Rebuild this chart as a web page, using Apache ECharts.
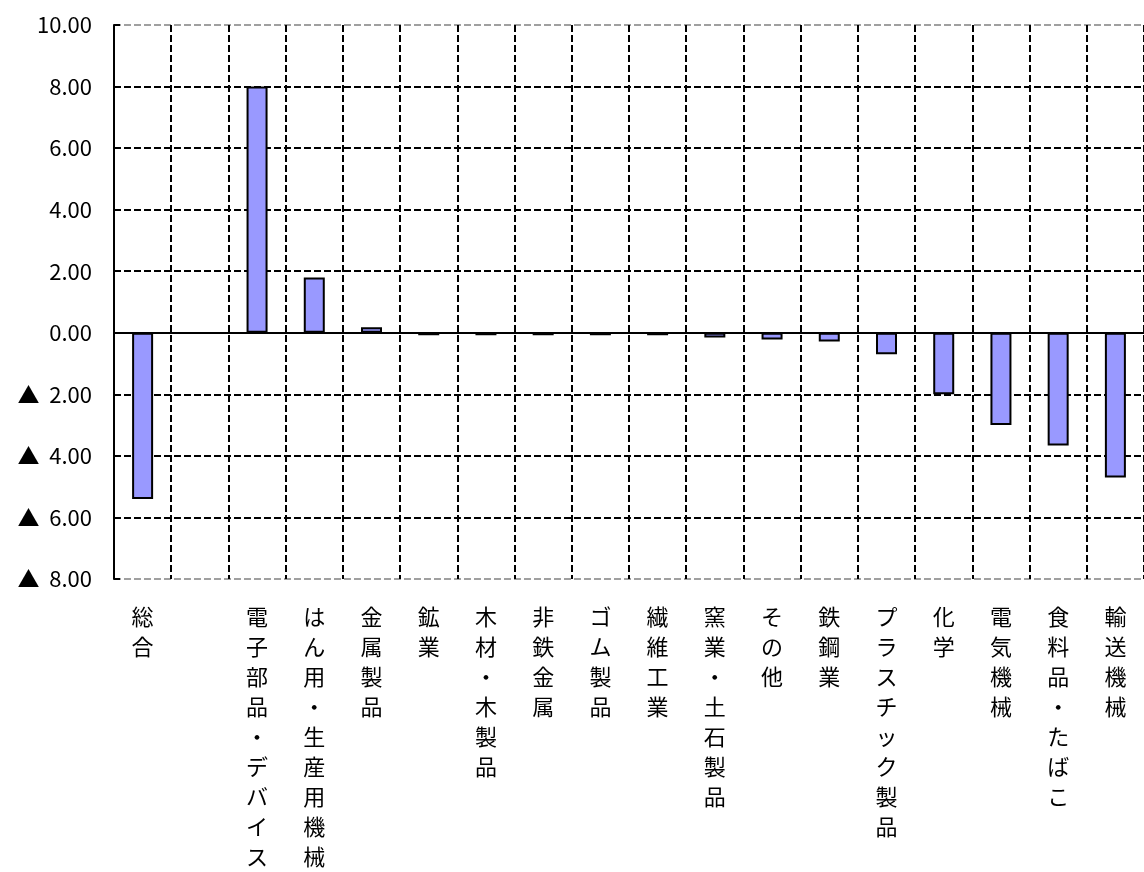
<!DOCTYPE html>
<html>
<head>
<meta charset="utf-8">
<script src="https://cdn.jsdelivr.net/npm/echarts@6/dist/echarts.min.js"></script>
<style>
  html, body { margin: 0; padding: 0; background: #fff; }
  #chart { width: 1144px; height: 872px; }
</style>
</head>
<body>
<div id="chart"></div>
<script>
// 業種（2番目は空欄）
const categories = [
  '総合', '', '電子部品・デバイス', 'はん用・生産用機械', '金属製品', '鉱業',
  '木材・木製品', '非鉄金属', 'ゴム製品', '繊維工業', '窯業・土石製品', 'その他',
  '鉄鋼業', 'プラスチック製品', '化学', '電気機械', '食料品・たばこ', '輸送機械'
]
// 寄与度
const values = [
  -5.4, null, 8.0, 1.8, 0.18, -0.08,
  -0.08, -0.08, -0.08, -0.08, -0.15, -0.22,
  -0.28, -0.7, -2.0, -3.0, -3.66, -4.7
]
const yTicks = { min: -8, max: 10, interval: 2 }

const FONT = 'Noto Sans CJK JP'
const chart = echarts.init(document.getElementById('chart'))

// 目盛線の色：上端・下端だけ灰色
const hLineColors = []
for (let v = yTicks.min; v <= yTicks.max; v += yTicks.interval) {
  hLineColors.push(v === yTicks.min || v === yTicks.max ? '#a0a0a0' : '#000')
}

const option = {
  backgroundColor: '#fff',
  animation: false,
  grid: { left: 114, top: 25, width: 1040, height: 557, containLabel: false },
  xAxis: [{
    type: 'category',
    data: categories,
    position: 'bottom',
    axisLine: { show: false, onZero: false },
    axisTick: { show: false },
    splitLine: {
      show: true,
      interval: 0,
      lineStyle: { color: '#000', type: [7, 3], width: 2 }
    },
    axisLabel: {
      interval: 0,
      margin: 23,
      color: '#000',
      fontFamily: FONT,
      fontSize: 22,
      lineHeight: 30,
      verticalAlign: 'top',
      formatter: (s) => s.split('').join('\n')
    }
  }, {
    // 0 の位置の実線（棒の下に描く）
    type: 'category',
    data: categories,
    position: 'top',
    axisLine: { show: true, onZero: true, lineStyle: { color: '#000', width: 2 } },
    axisTick: { show: false },
    axisLabel: { show: false },
    splitLine: { show: false }
  }],
  yAxis: {
    type: 'value',
    min: yTicks.min,
    max: yTicks.max,
    interval: yTicks.interval,
    axisLine: { show: true, lineStyle: { color: '#000', width: 2 } },
    axisTick: { show: true, inside: true, length: 6, lineStyle: { color: '#000', width: 2 } },
    splitLine: {
      show: true,
      lineStyle: { color: hLineColors, type: [7, 3], width: 2 }
    },
    axisLabel: {
      margin: 22,
      color: '#000',
      fontFamily: FONT,
      fontSize: 22,
      formatter: (v) => (v < 0 ? '▲  ' + Math.abs(v).toFixed(2) : v.toFixed(2))
    }
  },
  series: [{
    type: 'bar',
    xAxisIndex: 0,
    data: values,
    barWidth: 21,
    z: 5,
    itemStyle: { color: '#9999ff', borderColor: '#000', borderWidth: 2 }
  }]
}

chart.setOption(option)
</script>
</body>
</html>
